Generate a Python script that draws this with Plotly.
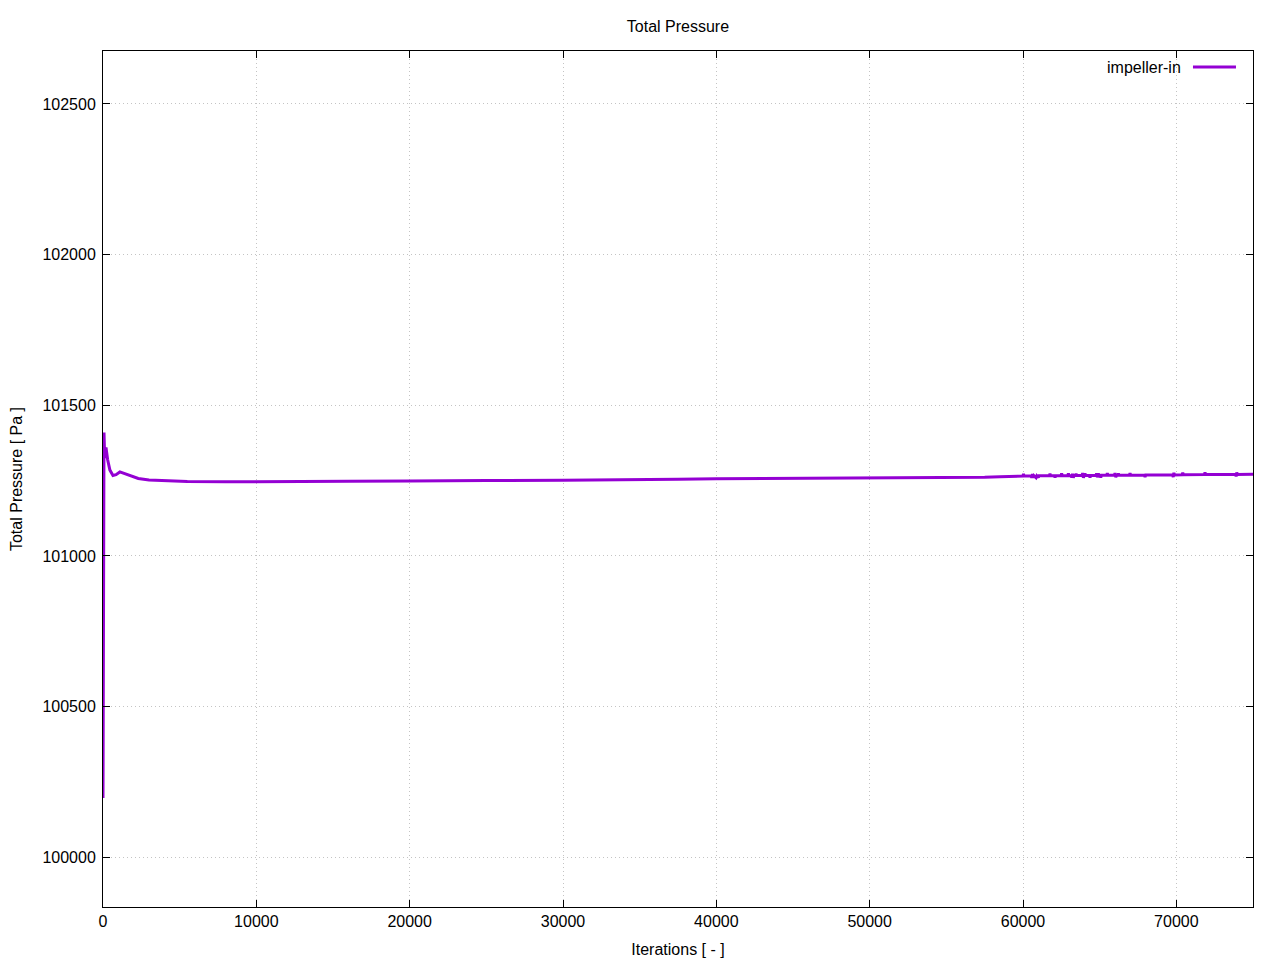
import plotly.graph_objects as go

# ---- data ----
iterations = [
    0, 15, 35, 65, 110, 195, 300, 450, 650, 850, 1100, 1400, 1800, 2300, 3000,
    4000, 5500, 8000, 11000, 12500, 16000, 20000, 21500, 25000, 30000, 35500,
    37500, 40000, 43000, 48000, 52000, 55800, 57500, 58500,
    60000, 60030, 60060, 60540, 60570, 60620, 60680, 60720, 60850, 60900,
    61000, 61040, 61720, 61760, 61800, 62050, 62090, 62130, 62480, 62520, 62560,
    62920, 62960, 63000, 63140, 63180, 63230, 63280, 63330, 63420, 63460, 63500,
    63850, 63890, 63940, 63990, 64040, 64080, 64330, 64370, 64410, 64760, 64800,
    64850, 64910, 64950, 65030, 65070, 65110, 65460, 65500, 65540, 65960, 66000,
    66050, 66100, 66180, 66220, 66260, 66940, 66980, 67020, 67920, 67960, 68000,
    69760, 69800, 69840, 69880, 70380, 70420, 70460, 71830, 71870, 71910,
    73860, 73900, 73940, 73980, 75000,
]
total_pressure = [
    100197, 100750, 101250, 101410, 101325, 101360, 101320, 101285, 101267,
    101270, 101279, 101274, 101265, 101257, 101252,
    101249, 101247, 101246, 101246, 101247.5, 101248, 101248.5, 101248.5,
    101250.5, 101251.5, 101252,
    101254.5, 101256.5, 101257.5, 101258, 101259, 101259.5, 101261, 101263,
    101265.5, 101273, 101265.5, 101266, 101259, 101272, 101259, 101266,
    101260, 101266,
    101260, 101266, 101266, 101273, 101266, 101266, 101260, 101266.5, 101266.5, 101274, 101266.5,
    101266.5, 101274, 101266.5, 101266.5, 101260, 101273, 101260, 101267, 101267, 101273, 101267,
    101267, 101275, 101260, 101267, 101274, 101267, 101267, 101260, 101267, 101267, 101274,
    101261, 101274, 101267, 101267, 101260, 101267.5, 101267.5, 101275, 101267.5, 101267.5, 101275,
    101261, 101267.5, 101267.5, 101274, 101268, 101268, 101275, 101268, 101268, 101262, 101268.5,
    101269, 101262, 101276, 101269, 101269.5, 101276, 101269.5, 101270, 101277, 101270,
    101270.5, 101264, 101277, 101270.5, 101271,
]

series_name = "impeller-in"
title_text = "Total Pressure"
x_title = "Iterations [ - ]"
y_title = "Total Pressure [ Pa ]"
x_ticks = [0, 10000, 20000, 30000, 40000, 50000, 60000, 70000]
y_ticks = [100000, 100500, 101000, 101500, 102000, 102500]

LINE_COLOR = "#9400D3"
FONT = "Liberation Sans, Arial, sans-serif"

fig = go.Figure()
fig.add_trace(go.Scatter(
    x=iterations, y=total_pressure, mode="lines", name=series_name,
    line=dict(color=LINE_COLOR, width=3), showlegend=False,
))

axis_common = dict(
    showline=True, linecolor="black", linewidth=1, mirror="ticks",
    ticks="inside", ticklen=7, tickwidth=1, tickcolor="black",
    showgrid=True, gridcolor="#c4c4c4", griddash="1px,3px", gridwidth=1,
    zeroline=False, automargin=False,
    tickfont=dict(family=FONT, size=16, color="black"),
)

fig.update_xaxes(
    range=[0, 75000], tickvals=x_ticks, ticktext=[str(v) for v in x_ticks],
    title=dict(text=x_title, font=dict(family=FONT, size=16, color="black"), standoff=14),
    ticklabelstandoff=0,
    **axis_common,
)
fig.update_yaxes(
    range=[99835.4, 102675.5], tickvals=y_ticks, ticktext=[str(v) for v in y_ticks],
    title=dict(text=y_title, font=dict(family=FONT, size=16, color="black"), standoff=17),
    ticklabelstandoff=3,
    **axis_common,
)

# gnuplot-style key: text followed by line sample, top-right inside the frame
fig.add_annotation(
    xref="paper", yref="paper", x=0.9391, y=0.9813, xanchor="right", yanchor="middle",
    text=series_name, showarrow=False, font=dict(family=FONT, size=16, color="black"),
)
fig.add_shape(
    type="line", xref="paper", yref="paper", x0=0.9478, x1=0.9852, y0=0.9813, y1=0.9813,
    line=dict(color=LINE_COLOR, width=3),
)

# page body has an 8px margin, so the figure is 8px smaller and margins shifted
fig.update_layout(
    width=1272, height=952,
    margin=dict(l=95, r=27, t=43, b=53),
    paper_bgcolor="white", plot_bgcolor="white",
    font=dict(family=FONT, size=16, color="black"),
    title=dict(text=title_text, x=0.5267, xanchor="center", y=0.9811, yanchor="middle",
               font=dict(family=FONT, size=16, color="black")),
)

fig.write_html("out.html")
